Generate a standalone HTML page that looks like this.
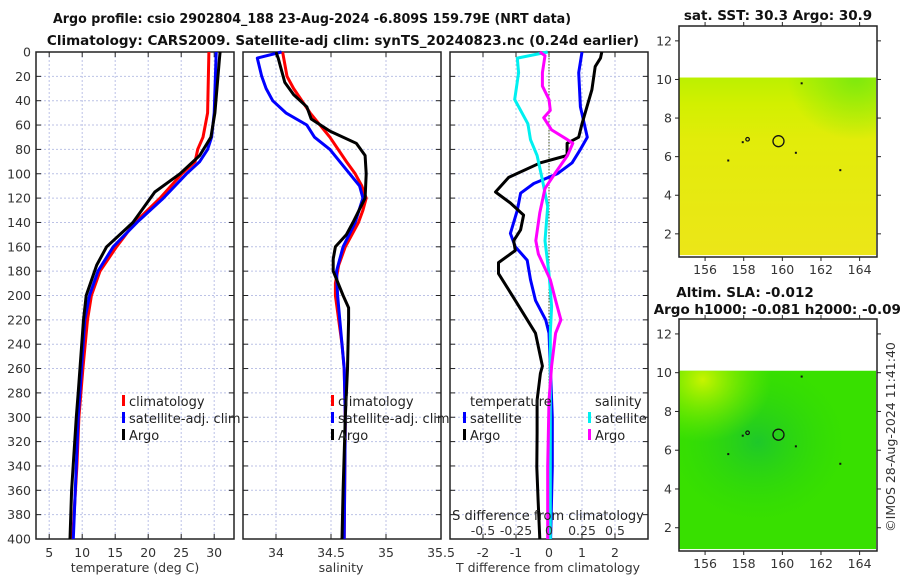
<!DOCTYPE html>
<html><head><meta charset="utf-8">
<style>
html,body{margin:0;padding:0;background:#fff;}
svg{display:block;font-family:"DejaVu Sans","Liberation Sans",sans-serif;}
.tk{font-size:12.5px;fill:#333;}
.ttl{font-size:13.5px;font-weight:bold;fill:#111;}
.lg{font-size:13px;fill:#222;}
</style></head>
<body>
<svg id="fig" width="900" height="580" viewBox="0 0 900 580" xmlns="http://www.w3.org/2000/svg">
<defs>
<linearGradient id="sstg" x1="0" y1="0" x2="0" y2="1">
<stop offset="0" stop-color="#bcf000"/><stop offset="0.15" stop-color="#d2f000"/><stop offset="0.35" stop-color="#e2ec0a"/><stop offset="1" stop-color="#ece618"/>
</linearGradient>
<radialGradient id="sstgr" cx="0.9" cy="0" r="0.35"><stop offset="0" stop-color="#6ee810" stop-opacity="0.8"/><stop offset="1" stop-color="#6ee810" stop-opacity="0"/></radialGradient>
<radialGradient id="slag1" cx="0.4" cy="0.4" r="0.45"><stop offset="0" stop-color="#1ec82a"/><stop offset="1" stop-color="#2ed808" stop-opacity="0"/></radialGradient>
<radialGradient id="slag2" cx="0.12" cy="0.05" r="0.35"><stop offset="0" stop-color="#c8f400"/><stop offset="1" stop-color="#80ee00" stop-opacity="0"/></radialGradient>
</defs>
<g id="titles">
<text class="ttl" x="53" y="23" textLength="518" lengthAdjust="spacingAndGlyphs">Argo profile: csio 2902804_188 23-Aug-2024 -6.809S 159.79E (NRT data)</text>
<text class="ttl" x="343" y="45" text-anchor="middle">Climatology: CARS2009. Satellite-adj clim: synTS_20240823.nc (0.24d earlier)</text>
</g>
<g id="plots"></g>
<g id="maps"></g>
<text class="tk" transform="translate(895,437) rotate(-90)" text-anchor="middle">©IMOS 28-Aug-2024 11:41:40</text>
</svg>
<script>
// depth levels and profiles
const tDepth = [0,50,70,80,90,100,120,140,160,180,200,220,260,300,340,400];
const tClim  = [29.2,29.0,28.3,27.5,27.1,25.1,21.8,18.0,15.2,12.7,11.4,10.8,10.1,9.5,9.2,8.55];
const tSat   = [30.3,30.0,29.6,29.0,27.8,25.8,22.3,18.3,14.7,12.4,11.1,10.4,9.9,9.4,9.1,8.65];
const tArgoDepth = [0,5,50,70,85,100,115,140,160,175,200,220,280,300,360,400];
const tArgo  = [30.9,30.8,30.1,29.5,27.8,24.8,21.0,17.7,13.7,12.2,10.6,10.2,9.4,9.1,8.4,8.15];

const sClimDepth = [0,20,30,50,70,90,100,110,120,130,140,150,160,175,190,200,220,240,260,300,400];
const sClim = [34.06,34.10,34.16,34.31,34.49,34.64,34.72,34.78,34.82,34.79,34.75,34.69,34.63,34.57,34.54,34.54,34.57,34.60,34.62,34.63,34.62];
const sSatDepth = [0,5,20,30,40,50,60,70,80,100,110,120,140,160,180,200,220,260,300,400];
const sSat = [34.05,33.83,33.87,33.91,33.97,34.09,34.28,34.35,34.49,34.67,34.76,34.79,34.72,34.61,34.55,34.56,34.58,34.62,34.63,34.62];
const sArgoDepth = [0,5,15,25,35,45,55,65,75,85,100,120,140,150,160,170,180,200,210,220,260,300,360,400];
const sArgo = [34.0,34.02,34.05,34.08,34.16,34.28,34.32,34.49,34.73,34.81,34.82,34.81,34.70,34.64,34.54,34.52,34.52,34.61,34.66,34.66,34.65,34.63,34.61,34.60];

const dTSatDepth = [0,17,45,70,80,91,100,108,116,130,149,160,171,187,204,220,231,300,341,400];
const dTSat = [1.0,0.9,0.95,1.16,0.95,0.7,0.25,-0.46,-0.86,-0.96,-1.17,-1.02,-0.66,-0.56,-0.41,-0.1,0.0,0.1,0.1,0.05];
const dTArgoDepth = [0,5,12,31,59,70,75,85,91,103,115,124,134,146,155,163,173,182,204,231,258,264,286,313,341,368,400];
const dTArgo = [1.6,1.56,1.4,1.3,1.0,0.9,0.55,0.55,-0.26,-1.22,-1.62,-1.17,-0.77,-0.86,-1.07,-1.02,-1.53,-1.53,-1.02,-0.41,-0.2,-0.26,-0.36,-0.36,-0.37,-0.33,-0.28];
const dSSatDepth = [0,5,17,39,59,72,85,105,127,155,182,209,231,300,400];
const dSSat = [-0.01,-0.24,-0.23,-0.26,-0.16,-0.14,-0.09,-0.05,-0.01,-0.03,0.0,0.02,0.01,0.01,0.01];
const dSArgoDepth = [0,3,17,28,39,48,54,64,72,75,85,99,112,132,155,166,187,204,220,231,258,286,341,400];
const dSArgo = [-0.07,-0.03,-0.05,-0.05,0.0,0.01,-0.04,0.02,0.14,0.18,0.14,0.05,-0.03,-0.07,-0.1,-0.08,0.01,0.05,0.09,0.05,0.02,0.0,-0.01,-0.01];

const depthTicks = [0,20,40,60,80,100,120,140,160,180,200,220,240,260,280,300,320,340,360,380,400];
const tTicks = [5,10,15,20,25,30];
const sTicks = [34,34.5,35,35.5];
const dTTicks = [-2,-1,0,1,2];
const dSTicks = [-0.5,-0.25,0,0.25,0.5];
const dSTickLabels = ["-0.5","-0.25","0","0.25","0.5"];
const latTicks = [2,4,6,8,10,12];
const lonTicks = [156,158,160,162,164];

const NS = "http://www.w3.org/2000/svg";
function mk(tag, attrs, parent){const e=document.createElementNS(NS,tag);for(const k in attrs)e.setAttribute(k,attrs[k]);parent.appendChild(e);return e;}
const Y0=52, Y1=539;
const yD = d => Y0 + d*(Y1-Y0)/400;
const panels = [
  {x0:36,x1:234,min:3,max:33,name:'temperature-panel'},
  {x0:243,x1:441,min:33.7,max:35.5,name:'salinity-panel'},
  {x0:450,x1:648,min:-3,max:3,name:'difference-panel'}
];
const sx = (p,v)=> p.x0 + (v-p.min)/(p.max-p.min)*(p.x1-p.x0);
const plots = document.getElementById('plots');

function drawPanel(p, xt, xlabels){
  const g = mk('g',{},plots);
  
  
  depthTicks.forEach(d=>{ if(d>0&&d<400){const l=mk('line',{x1:p.x0,x2:p.x1,y1:yD(d),y2:yD(d),stroke:'#bcc2e6','stroke-width':1,'stroke-dasharray':'2,2'},g);
    
    }
    mk('line',{x1:p.x0,x2:p.x0+5,y1:yD(d),y2:yD(d),stroke:'#222'},g);
    mk('line',{x1:p.x1,x2:p.x1-5,y1:yD(d),y2:yD(d),stroke:'#222'},g);
  });
  xt.forEach((v,i)=>{const x=sx(p,v);
    if(x>p.x0+1&&x<p.x1-1){const l=mk('line',{x1:x,x2:x,y1:Y0,y2:Y1,stroke:'#bcc2e6','stroke-width':1,'stroke-dasharray':'2,2'},g);
      
      }
    mk('line',{x1:x,x2:x,y1:Y0,y2:Y0+5,stroke:'#222'},g);
    mk('line',{x1:x,x2:x,y1:Y1,y2:Y1-5,stroke:'#222'},g);
    const t=mk('text',{x:x,y:557,'text-anchor':'middle',class:'tk'},g); t.textContent=xlabels?xlabels[i]:String(v);
    
    
  });
  const r=mk('rect',{x:p.x0,y:Y0,width:p.x1-p.x0,height:Y1-Y0,fill:'none',stroke:'#222','stroke-width':1.5},g);
  
  
  return g;
}
function line(p, g, depths, vals, color, name, scale){
  const pts = depths.map((d,i)=> sx(p, vals[i]*(scale||1)).toFixed(1)+','+yD(d).toFixed(1)).join(' ');
  const pl = mk('polyline',{points:pts,fill:'none',stroke:color,'stroke-width':3,'stroke-linejoin':'round'},g);
  
  
}
function legend(g, x, y, items, header){
  let yy=y;
  if(header){const h=mk('text',{x:x+7,y:yy,class:'lg'},g);h.textContent=header;
    
     yy+=17;}
  items.forEach(it=>{
    mk('rect',{x:x,y:yy-11,width:3,height:11,fill:it[1]},g);
    const t=mk('text',{x:x+7,y:yy,class:'lg'},g);t.textContent=it[0];
    
    
    yy+=17;
  });
}
depthTicks.forEach(d=>{const t=mk('text',{x:31,y:yD(d)+4.5,'text-anchor':'end',class:'tk'},plots);t.textContent=d;
  
  });

let p=panels[0], g=drawPanel(p,tTicks);
line(p,g,tDepth,tClim,'#ff0000','temp-climatology-line');
line(p,g,tDepth,tSat,'#0000ff','temp-satellite-line');
line(p,g,tArgoDepth,tArgo,'#000000','temp-argo-line');
legend(g,122,406,[['climatology','#ff0000'],['satellite-adj. clim','#0000ff'],['Argo','#000']]);
let t=mk('text',{x:135,y:572,'text-anchor':'middle',class:'tk'},g);t.textContent='temperature (deg C)';



p=panels[1]; g=drawPanel(p,sTicks);
line(p,g,sClimDepth,sClim,'#ff0000','sal-climatology-line');
line(p,g,sSatDepth,sSat,'#0000ff','sal-satellite-line');
line(p,g,sArgoDepth,sArgo,'#000000','sal-argo-line');
legend(g,331,406,[['climatology','#ff0000'],['satellite-adj. clim','#0000ff'],['Argo','#000']]);
t=mk('text',{x:341,y:572,'text-anchor':'middle',class:'tk'},g);t.textContent='salinity';



p=panels[2]; g=drawPanel(p,dTTicks);
mk('line',{x1:sx(p,0),x2:sx(p,0),y1:Y0,y2:Y1,stroke:'#445522','stroke-width':1,'stroke-dasharray':'1.5,1.5'},g);
const sScale = 6/1.5;
line(p,g,dTSatDepth,dTSat,'#0000ff','tdiff-satellite-line');
line(p,g,dTArgoDepth,dTArgo,'#000000','tdiff-argo-line');
line(p,g,dSSatDepth,dSSat,'#00f0f0','sdiff-satellite-line',sScale);
line(p,g,dSArgoDepth,dSArgo,'#ff00ff','sdiff-argo-line',sScale);
legend(g,463,406,[['satellite','#0000ff'],['Argo','#000']],'temperature');
legend(g,588,406,[['satellite','#00f0f0'],['Argo','#ff00ff']],'salinity');
t=mk('text',{x:548,y:520,'text-anchor':'middle',class:'lg'},g);t.textContent='S difference from climatology';


dSTicks.forEach((v,i)=>{const tt=mk('text',{x:sx(p,v*sScale),y:535,'text-anchor':'middle',class:'tk'},g);tt.textContent=dSTickLabels[i];
  
  });
t=mk('text',{x:548,y:572,'text-anchor':'middle',class:'tk'},g);t.textContent='T difference from climatology';



const maps = document.getElementById('maps');
const LON0=154.65, LON1=164.9;
function drawMap(top, bottom, fills, name, titles){
  const m=mk('g',{},maps);
  
  
  const x0=679,x1=877, LAT1=12.77, LAT0=0.8;
  const px = lo => x0+(lo-LON0)/(LON1-LON0)*(x1-x0);
  const py = la => top+(LAT1-la)/(LAT1-LAT0)*(bottom-top);
  fills.forEach(f=>mk('rect',{x:x0,y:py(10.1),width:px(164.85)-x0,height:py(0.9)-py(10.1),fill:f},m));
  mk('circle',{cx:px(159.8),cy:py(6.8),r:5.5,fill:'none',stroke:'#111','stroke-width':1.3},m);
  mk('circle',{cx:px(158.2),cy:py(6.9),r:1.8,fill:'none',stroke:'#111','stroke-width':1.2},m);
  [[157.95,6.75],[157.2,5.8],[160.7,6.2],[161,9.8],[163,5.3]].forEach(q=>mk('rect',{x:px(q[0])-1,y:py(q[1])-1,width:2,height:2,fill:'#111'},m));
  mk('rect',{x:x0,y:top,width:x1-x0,height:bottom-top,fill:'none',stroke:'#222','stroke-width':1.5},m);
  latTicks.forEach(la=>{const y=py(la);
    mk('line',{x1:x0-4,x2:x0,y1:y,y2:y,stroke:'#222'},m);
    mk('line',{x1:x1,x2:x1+4,y1:y,y2:y,stroke:'#222'},m);
    const tt=mk('text',{x:x0-7,y:y+4.5,'text-anchor':'end',class:'tk'},m);tt.textContent=la;
    
    });
  lonTicks.forEach(lo=>{const x=px(lo);
    mk('line',{x1:x,x2:x,y1:bottom,y2:bottom+4,stroke:'#222'},m);
    mk('line',{x1:x,x2:x,y1:top,y2:top-4,stroke:'#222'},m);
    const tt=mk('text',{x:x,y:bottom+17,'text-anchor':'middle',class:'tk'},m);tt.textContent=lo;
    
    });
  titles.forEach(ti=>{const tt=mk('text',{x:ti[1],y:ti[2],'text-anchor':'middle',class:'ttl'},m);tt.textContent=ti[0];
    
    });
}
drawMap(26,257,['url(#sstg)','url(#sstgr)'],'sst-map',[['sat. SST: 30.3 Argo: 30.9',778,20]]);
drawMap(319,551,['#38e000','url(#slag1)','url(#slag2)'],'sla-map',[['Altim. SLA: -0.012',745,297],['Argo h1000: -0.081 h2000: -0.096',782,314]]);
</script>
</body></html>
